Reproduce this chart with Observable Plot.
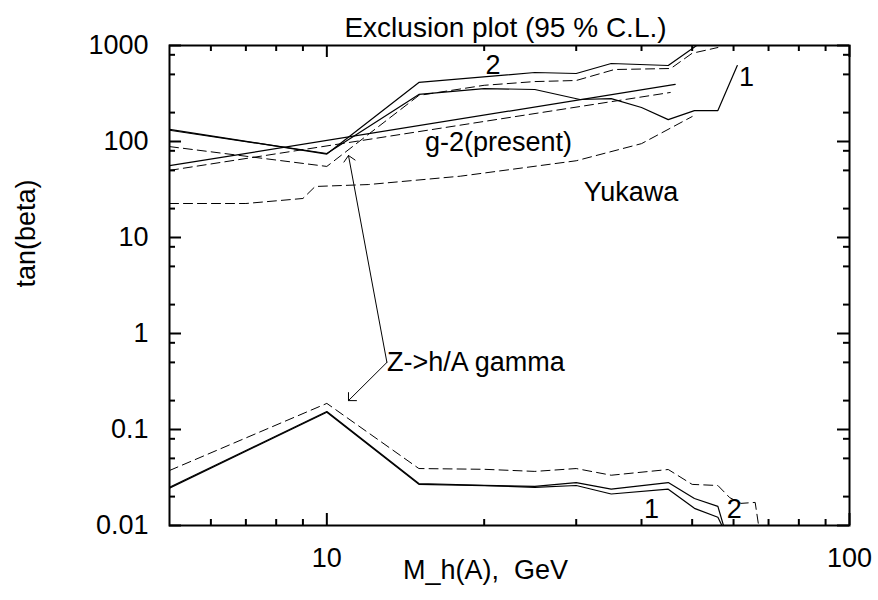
<!DOCTYPE html>
<html>
<head>
<meta charset="utf-8">
<script src="https://cdn.jsdelivr.net/npm/d3@7"></script>
<script src="https://cdn.jsdelivr.net/npm/@observablehq/plot@0.6"></script>
<style>
  html, body { margin: 0; padding: 0; background: #fff; }
  #chart svg { display: block; }
</style>
</head>
<body>
<div id="chart"></div>
<script>
// ---- Data ----
const titleText = "Exclusion plot (95 % C.L.)";
const xLabelText = "M_h(A),\u00a0 GeV";
const yLabelText = "tan(beta)";

const xMajor = [10, 100];
const xMajorLabels = ["10", "100"];
const xMinor = [6, 7, 8, 9, 20, 30, 40, 50, 60, 70, 80, 90];
const yMajor = [0.01, 0.1, 1, 10, 100, 1000];
const yMajorLabels = ["0.01", "0.1", "1", "10", "100", "1000"];
const yMinor = [0.02, 0.05, 0.08, 0.2, 0.5, 0.8, 2, 5, 8, 20, 50, 80, 200, 500, 800];

// upper exclusion curves (solid "1" and "2", dashed)
const massC1Up = [5, 10, 15, 20, 25, 30.5, 35, 40, 45, 50.5, 56, 61];
const tanC1Up  = [131, 75, 309, 356, 348, 274, 280, 226, 169, 210, 210, 619];
const massC2Up = [5, 10, 15, 25, 30, 35, 45, 51];
const tanC2Up  = [134, 74, 412, 523, 511, 649, 619, 1000];
const massD2Up = [5, 10, 15, 20, 25, 30, 35.5, 45.5, 50, 56];
const tanD2Up  = [88.5, 55, 302, 385, 421, 432, 562, 576, 830, 953];

// g-2 (present)
const massG2Solid = [5, 46.4];
const tanG2Solid  = [56, 393];
const massG2Dash  = [5, 45.4];
const tanG2Dash   = [50, 324];

// Yukawa
const massYuk = [5, 7, 9, 9.5, 12, 18, 30, 40, 50];
const tanYuk  = [22.6, 22.6, 25.5, 34, 35.6, 43.5, 63, 95, 182];

// Z -> h/A gamma
const massZDash = [5, 10, 15, 20, 25, 30, 35, 45, 50, 56, 59, 62, 66, 67];
const tanZDash  = [0.0374, 0.187, 0.0392, 0.0385, 0.0366, 0.0392, 0.0334, 0.0383, 0.0268, 0.0261, 0.0195, 0.017, 0.0174, 0.01];
const massZ2 = [5, 10, 15, 20, 25, 30, 35, 45, 50.5, 56, 57.4];
const tanZ2  = [0.025, 0.154, 0.0274, 0.0262, 0.0256, 0.028, 0.0239, 0.028, 0.0191, 0.0158, 0.01];
const massZ1 = [5, 10, 15, 20, 25, 30, 35, 45, 50.5, 56, 57];
const tanZ1  = [0.0245, 0.151, 0.0268, 0.026, 0.025, 0.0261, 0.0213, 0.0239, 0.0151, 0.0122, 0.01];

// annotation arrows
const arrowX1 = [13.03, 13.03];
const arrowY1 = [0.5, 0.5];
const arrowX2 = [11, 11];
const arrowY2 = [71.5, 0.2];

// in-plot labels
const labelText = ["2", "1", "g-2(present)", "Yukawa", "Z->h/A gamma", "1", "2"];
const labelX    = [20.8, 63.5, 21.3, 38.2, 13.03, 41.8, 60.2];
const labelY    = [619, 464, 97.7, 29.4, 0.5, 0.0147, 0.0147];
const labelAnchor = ["middle", "middle", "middle", "middle", "start", "middle", "middle"];

// ---- build tables ----
const pts = (xs, ys) => xs.map((x, i) => ({x, y: ys[i]}));
const solidSeries = [pts(massC1Up, tanC1Up), pts(massC2Up, tanC2Up), pts(massG2Solid, tanG2Solid), pts(massZ2, tanZ2), pts(massZ1, tanZ1)];
const dashSeries = [pts(massD2Up, tanD2Up), pts(massG2Dash, tanG2Dash), pts(massYuk, tanYuk), pts(massZDash, tanZDash)];
const arrows = arrowX1.map((d, i) => ({x1: d, y1: arrowY1[i], x2: arrowX2[i], y2: arrowY2[i]}));
const labels = labelText.map((t, i) => ({t, x: labelX[i], y: labelY[i], a: labelAnchor[i]}));

const W = 878, H = 600, mL = 169, mR = 29, mT = 45, mB = 75;
const fw = W - mL - mR, fh = H - mT - mB;
const majLen = 12, minLen = 6;

const marks = [];
for (const s of solidSeries) marks.push(Plot.line(s, {x: "x", y: "y", stroke: "black", strokeWidth: 1.2, clip: true}));
for (const s of dashSeries) marks.push(Plot.line(s, {x: "x", y: "y", stroke: "black", strokeWidth: 1, strokeDasharray: "9,5", clip: true}));

// inward ticks on all four sides
const tk = {stroke: "black", strokeWidth: 2};
marks.push(
  Plot.ruleX(xMinor, {x: d => d, insetTop: fh - minLen, ...tk}),
  Plot.ruleX(xMinor, {x: d => d, insetBottom: fh - minLen, ...tk}),
  Plot.ruleX(xMajor, {x: d => d, insetTop: fh - majLen, ...tk}),
  Plot.ruleX(xMajor, {x: d => d, insetBottom: fh - majLen, ...tk}),
  Plot.ruleY(yMinor, {y: d => d, insetRight: fw - minLen, ...tk}),
  Plot.ruleY(yMinor, {y: d => d, insetLeft: fw - minLen, ...tk}),
  Plot.ruleY(yMajor, {y: d => d, insetRight: fw - majLen, ...tk}),
  Plot.ruleY(yMajor, {y: d => d, insetLeft: fw - majLen, ...tk}),
  Plot.frame({stroke: "black", strokeWidth: 2})
);

marks.push(
  Plot.axisX({ticks: xMajor, tickSize: 0, tickPadding: 22, tickFormat: (d) => xMajorLabels[xMajor.indexOf(d)], label: null, fontSize: 27}),
  Plot.axisY({ticks: yMajor, tickSize: 0, tickPadding: 21, tickFormat: (d) => yMajorLabels[yMajor.indexOf(d)], label: null, fontSize: 27})
);

marks.push(
  Plot.arrow(arrows, {x1: "x1", y1: "y1", x2: "x2", y2: "y2", stroke: "black", strokeWidth: 1, headAngle: 90, headLength: 12}),
  Plot.text(labels.filter(d => d.a === "middle"), {x: "x", y: "y", text: "t", fontSize: 27, fill: "black", textAnchor: "middle"}),
  Plot.text(labels.filter(d => d.a === "start"), {x: "x", y: "y", text: "t", fontSize: 27, fill: "black", textAnchor: "start"}),
  Plot.text([titleText], {frameAnchor: "top", dy: -28, dx: -4, text: d => d, fontSize: 28, fill: "black"}),
  Plot.text([xLabelText], {frameAnchor: "bottom", dy: 53, dx: -24, text: d => d, fontSize: 27, fill: "black"}),
  Plot.text([yLabelText], {frameAnchor: "left", dx: -143, dy: 2, rotate: -90, text: d => d, fontSize: 27, fill: "black"})
);

const chart = Plot.plot({
  width: W, height: H,
  marginLeft: mL, marginRight: mR, marginTop: mT, marginBottom: mB,
  x: {type: "log", domain: [5, 100]},
  y: {type: "log", domain: [0.01, 1000]},
  style: {fontFamily: "'Liberation Sans', Arial, Helvetica, sans-serif", fontSize: "27px", color: "black", background: "white", overflow: "visible"},
  marks
});
document.getElementById("chart").appendChild(chart);
</script>
</body>
</html>
